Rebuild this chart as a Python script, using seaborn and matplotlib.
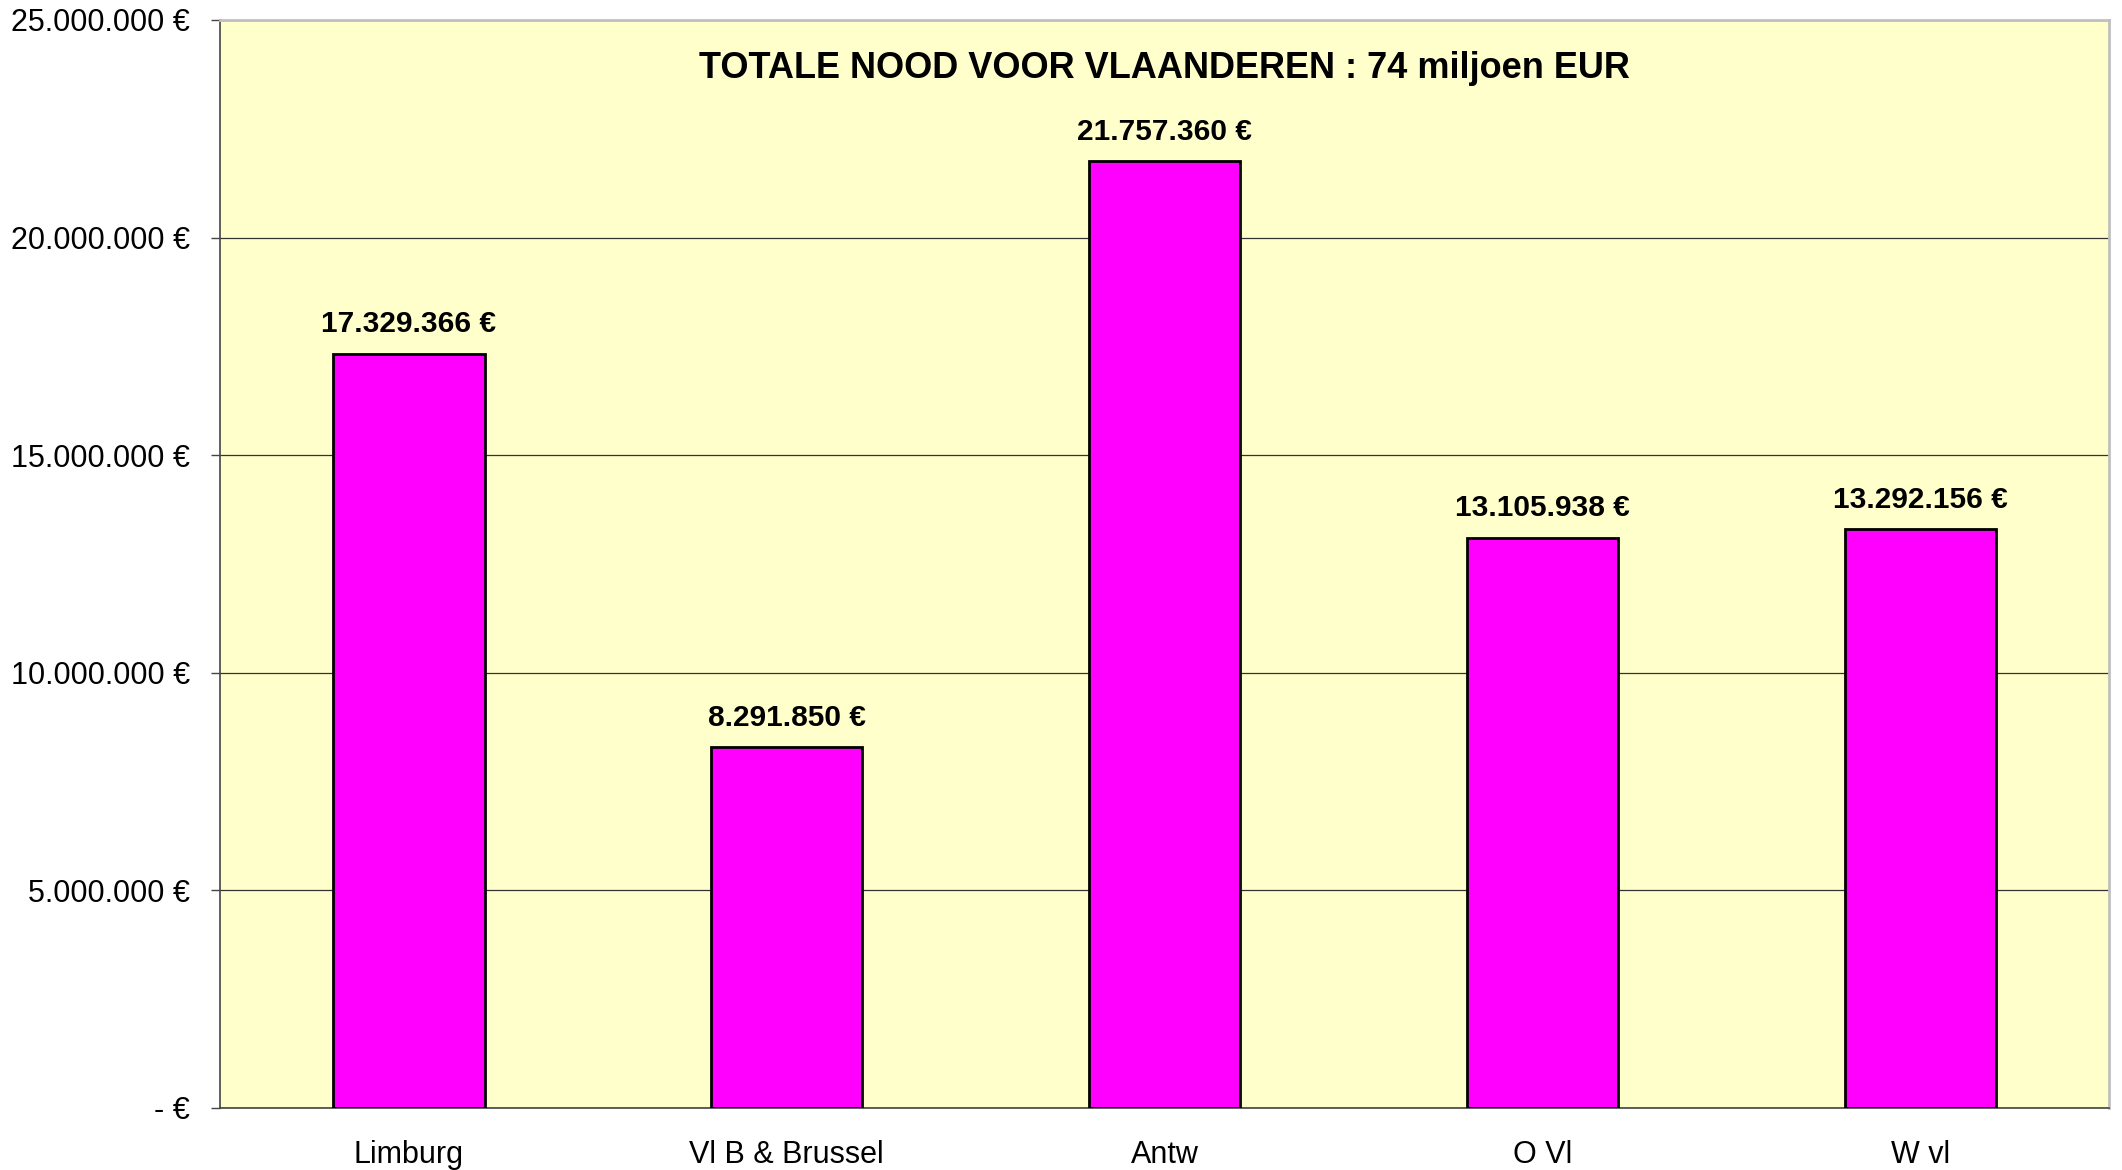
import matplotlib
matplotlib.use("Agg")
import matplotlib.pyplot as plt
import matplotlib.ticker as mticker
import seaborn as sns

regions = ["Limburg", "Vl B & Brussel", "Antw", "O Vl", "W vl"]
needs = [17329366, 8291850, 21757360, 13105938, 13292156]
title = "TOTALE NOOD VOOR VLAANDEREN : 74 miljoen EUR"


def euro(v, pos=None):
    if v == 0:
        return "- €"
    return f"{v:,.0f} €".replace(",", ".")


sns.set_style("white")
plt.rcParams["font.family"] = ["Liberation Sans", "DejaVu Sans"]
plt.rcParams["text.color"] = "black"
plt.rcParams["xtick.color"] = "black"
plt.rcParams["ytick.color"] = "black"

fig, ax = plt.subplots(figsize=(21.22, 11.70), dpi=100)
fig.subplots_adjust(left=0.1037, right=0.9939, top=0.983, bottom=0.053)
ax.set_facecolor("#FFFFCC")

sns.barplot(x=regions, y=needs, color="#FF00FF", saturation=1,
            edgecolor="black", linewidth=2, width=0.4, ax=ax, zorder=3)

ax.set_xlim(-0.5, len(regions) - 0.5)
ax.set_ylim(0, 25_000_000)
ax.yaxis.set_major_locator(mticker.MultipleLocator(5_000_000))
ax.yaxis.set_major_formatter(mticker.FuncFormatter(euro))
ax.grid(axis="y", color="#333333", linewidth=0.9, zorder=1)
ax.set_axisbelow(True)

ax.set_xticks(range(len(regions)))
ax.set_xticklabels(regions)
ax.set_xticks([i - 0.5 for i in range(len(regions) + 1)], minor=True)
ax.tick_params(axis="x", which="major", length=0, pad=23, labelsize=22)
ax.tick_params(axis="x", which="minor", length=7, width=1, color="#444444", direction="out")
ax.tick_params(axis="y", length=6.5, width=1, color="#444444", direction="out",
               labelsize=22, pad=15, left=True)
ax.set_xlabel("")
ax.set_ylabel("")

for side in ("left", "bottom"):
    ax.spines[side].set_color("#444444")
    ax.spines[side].set_linewidth(1.2)
for side in ("top", "right"):
    ax.spines[side].set_color("#C0C0C0")
    ax.spines[side].set_linewidth(2)

for i, v in enumerate(needs):
    ax.annotate(euro(v), (i, v), xytext=(0, 11), textcoords="offset points",
                ha="center", va="bottom", fontsize=21.5, fontweight="bold")

ax.text(0.5, 0.955, title, transform=ax.transAxes, ha="center", va="center",
        fontsize=26, fontweight="bold")

fig.savefig("out.png", dpi=100)
